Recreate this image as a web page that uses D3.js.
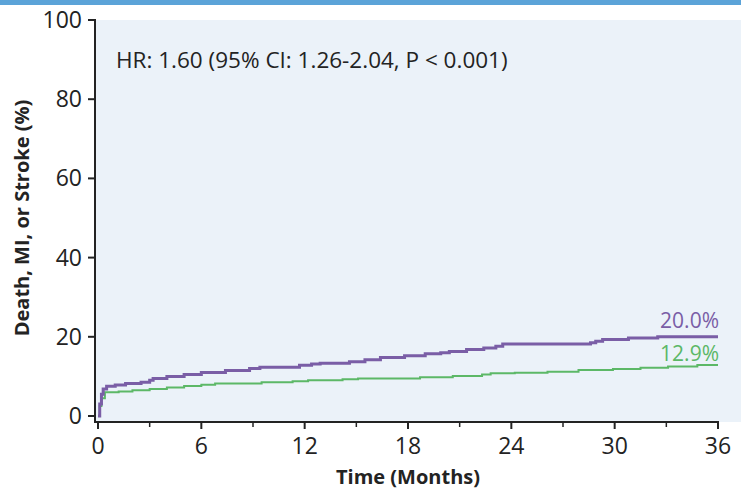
<!DOCTYPE html>
<html><head><meta charset="utf-8">
<script src="https://cdn.jsdelivr.net/npm/d3@7"></script>
<style>
html,body{margin:0;padding:0;background:#fff;}
svg{display:block;font-family:"Open Sans",sans-serif;}
</style></head>
<body><svg id="c" width="741" height="490"></svg>
<script>
const xTicks = [0, 6, 12, 18, 24, 30, 36];
const xMinorTicks = [3, 9, 15, 21, 27, 33];
const yTicks = [0, 20, 40, 60, 80, 100];
const seriesNames = ["Purple", "Green"];
const purpleTime = [0, 0.1, 0.2, 0.3, 0.5, 1.0, 1.6, 2.5, 3.0, 3.2, 4.0, 5.0, 6.0, 7.4, 8.8, 9.4, 11.7, 12.4, 12.9, 14.6, 15.5, 16.4, 17.8, 19.0, 19.9, 20.4, 21.4, 22.4, 23.1, 23.5, 28.6, 28.9, 29.3, 30.8, 32.5, 36];
const purpleVal  = [0, 3.0, 5.5, 6.8, 7.5, 7.8, 8.2, 8.5, 9.0, 9.5, 10.0, 10.5, 11.0, 11.5, 12.0, 12.3, 12.8, 13.1, 13.3, 13.7, 14.2, 14.8, 15.2, 15.7, 16.0, 16.3, 16.8, 17.2, 17.6, 18.2, 18.5, 18.9, 19.3, 19.7, 20.0, 20.0];
const greenTime = [0, 0.1, 0.2, 0.4, 1.2, 2.0, 3.0, 4.0, 5.0, 6.0, 6.8, 9.5, 11.3, 12.2, 14.2, 15.1, 18.7, 20.6, 22.3, 22.8, 24.2, 26.1, 27.9, 29.9, 31.5, 33.1, 34.8, 36];
const greenVal  = [0, 2.5, 4.5, 6.0, 6.2, 6.5, 6.8, 7.2, 7.6, 7.9, 8.2, 8.5, 8.8, 9.0, 9.3, 9.5, 9.8, 10.1, 10.5, 10.8, 10.9, 11.2, 11.6, 11.9, 12.2, 12.5, 12.9, 12.9];
const endLabels = ["20.0%", "12.9%"];
const annotation = "HR: 1.60 (95% CI: 1.26-2.04, P < 0.001)";
const xTitle = "Time (Months)";
const yTitle = "Death, MI, or Stroke (%)";

const svg = d3.select("#c");
const x = d3.scaleLinear().domain([0, 36]).range([98, 718]);
const y = d3.scaleLinear().domain([0, 100]).range([416, 20]);
const dark = "#232323";
const purple = "#7a5ea6", green = "#5cb867";

svg.append("rect").attr("x", 0).attr("y", 0).attr("width", 741).attr("height", 5).attr("fill", "#5ba3d8");
svg.append("rect").attr("x", 96).attr("y", 20).attr("width", 741 - 96).attr("height", 422 - 20).attr("fill", "#ebf2f9");

const axisY = 422;
svg.append("line").attr("x1", 95).attr("x2", 95).attr("y1", 19).attr("y2", axisY + 1).attr("stroke", dark).attr("stroke-width", 2);
svg.append("line").attr("x1", 94).attr("x2", 719).attr("y1", axisY).attr("y2", axisY).attr("stroke", dark).attr("stroke-width", 2);

const gx = svg.append("g");
gx.selectAll("line.maj").data(xTicks).join("line")
  .attr("x1", d => x(d)).attr("x2", d => x(d)).attr("y1", axisY).attr("y2", axisY + 7)
  .attr("stroke", dark).attr("stroke-width", 2);
gx.selectAll("line.min").data(xMinorTicks).join("line")
  .attr("x1", d => x(d)).attr("x2", d => x(d)).attr("y1", axisY).attr("y2", axisY + 5)
  .attr("stroke", dark).attr("stroke-width", 1.5);
gx.selectAll("text").data(xTicks).join("text")
  .attr("x", d => x(d)).attr("y", 454).attr("text-anchor", "middle")
  .attr("font-size", 23).attr("fill", dark).text(d => d);

const gy = svg.append("g");
gy.selectAll("line").data(yTicks).join("line")
  .attr("x1", 88).attr("x2", 95).attr("y1", d => y(d)).attr("y2", d => y(d))
  .attr("stroke", dark).attr("stroke-width", 2);
gy.selectAll("text").data(yTicks).join("text")
  .attr("x", 82).attr("y", d => y(d)).attr("dy", "0.35em").attr("text-anchor", "end")
  .attr("font-size", 23).attr("fill", dark).text(d => d);

const line = d3.line().x(d => x(d[0])).y(d => y(d[1])).curve(d3.curveStepAfter);
const gData = d3.zip(greenTime, greenVal);
const pData = d3.zip(purpleTime, purpleVal);
svg.append("path").attr("d", line(gData)).attr("fill", "none").attr("stroke", green).attr("stroke-width", 2);
svg.append("path").attr("d", line(pData)).attr("fill", "none").attr("stroke", purple).attr("stroke-width", 3);

svg.append("text").attr("x", 719).attr("y", 328).attr("text-anchor", "end")
  .attr("font-size", 21).attr("fill", purple).text(endLabels[0]);
svg.append("text").attr("x", 719).attr("y", 361).attr("text-anchor", "end")
  .attr("font-size", 21).attr("fill", green).text(endLabels[1]);

svg.append("text").attr("x", 116).attr("y", 68).attr("font-size", 22.5).attr("fill", dark).text(annotation);

svg.append("text").attr("x", 408).attr("y", 484).attr("text-anchor", "middle")
  .attr("font-size", 20).attr("font-weight", "bold").attr("fill", dark).text(xTitle);
svg.append("text").attr("transform", "translate(29,218) rotate(-90)").attr("text-anchor", "middle")
  .attr("font-size", 20).attr("font-weight", "bold").attr("fill", dark).text(yTitle);
</script></body></html>
